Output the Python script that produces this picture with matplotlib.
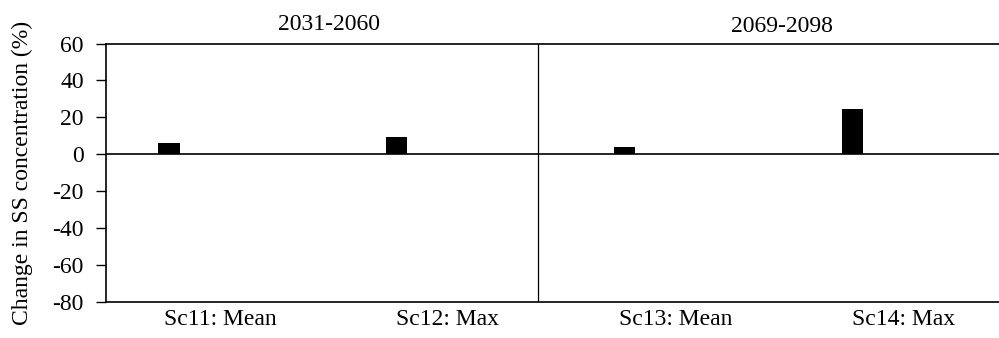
import matplotlib.pyplot as plt
import numpy as np

plt.rcParams['font.family'] = ['Liberation Serif', 'DejaVu Serif']
plt.rcParams['axes.unicode_minus'] = False

# chart data
scenarios = ['Sc11: Mean', 'Sc12: Max', 'Sc13: Mean', 'Sc14: Max']
change_pct = [6.2, 9.5, 4.2, 24.5]
periods = ['2031-2060', '2069-2098']
y_ticks = [-80, -60, -40, -20, 0, 20, 40, 60]

fs = 17

fig = plt.figure(figsize=(9.99, 3.38), dpi=100)
ax = fig.add_axes([106 / 999, 1 - 302 / 338, 1 - 106 / 999, (302 - 43.5) / 338])

x = np.arange(len(scenarios))
ax.bar(x - 0.224, change_pct, width=0.094, color='black')

ax.axhline(0, color='black', lw=1.2)
ax.axvline(1.395, color='black', lw=0.9)

ax.set_xlim(-0.5, 3.42)
ax.set_ylim(-80, 60)
ax.set_yticks(y_ticks)
ax.set_xticks(x)
ax.set_xticklabels(scenarios)
ax.tick_params(axis='x', length=0, pad=5, labelsize=fs)
ax.tick_params(axis='y', length=7, width=1, direction='out', pad=9, labelsize=fs)

ax.spines['right'].set_visible(False)
for s in ['left', 'top', 'bottom']:
    ax.spines[s].set_linewidth(1.2)
    ax.spines[s].set_color('black')

ax.set_ylabel('Change in SS concentration (%)', fontsize=fs, labelpad=14)

# period headers above each half
fig.text(329 / 999, 1 - 25 / 338, periods[0], fontsize=fs, ha='center', va='center')
fig.text(782 / 999, 1 - 27 / 338, periods[1], fontsize=fs, ha='center', va='center')

fig.savefig('out.png', dpi=100)
